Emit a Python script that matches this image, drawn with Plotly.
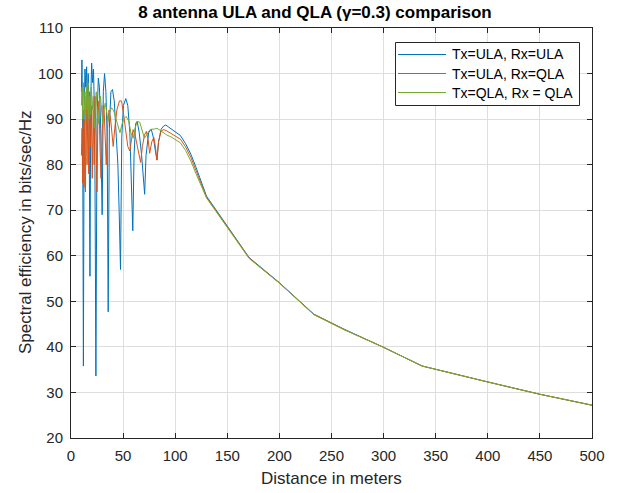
import plotly.graph_objects as go

# ---- data ----
ula_ula_x = [10.0, 10.5, 11.2, 11.9, 12.6, 13.4, 14.2, 15.0, 15.8, 16.5, 17.3, 18.2, 19.0, 19.8,
             20.8, 21.6, 22.8, 23.9, 25.0, 26.2, 27.3, 28.5, 29.9, 31.0, 32.2, 33.5, 34.7, 35.7,
             36.8, 38.3, 39.8, 41.5, 43.5, 45.0, 46.2, 47.5, 48.7, 50.3, 52.6, 54.5, 56.5, 58.2,
             59.3, 60.5, 62.0, 63.5, 65.5, 67.8, 69.5, 70.7, 72.0, 74.5, 77.0, 79.0, 81.0, 82.5,
             84.0, 86.5, 89.0, 91.0, 94.0, 97.0, 100, 105, 110, 115, 120, 125,
             130, 171, 200, 233, 262, 300, 337, 400, 450, 500]
ula_ula_y = [96, 103, 88, 35.8, 90, 101, 97, 101.5, 92, 100, 92, 55.5, 95, 102.3,
             98, 101, 88, 33.6, 90, 99, 97, 88, 69, 96, 100, 96, 86, 47.7,
             88, 96, 96.5, 94, 86, 80, 70, 57, 86, 93, 94.5, 93, 87, 76,
             65.5, 82, 89, 89.5, 87, 82, 77, 73.5, 82, 87, 87.8, 86, 83, 81,
             85, 87.8, 88.5, 88.7, 88.2, 87.7, 87.3, 86.4, 84.6, 82.3, 79.4, 76.3,
             73.1, 59.6, 54.1, 47.2, 43.9, 39.9, 35.8, 32.3, 29.6, 27.2]

ula_qla_x = [10.0, 10.6, 11.2, 11.8, 12.5, 13.2, 13.9, 14.6, 15.4, 16.2, 17.0, 17.8, 18.7, 19.5,
             20.4, 21.3, 22.2, 23.1, 24.0, 24.9, 25.8, 26.8, 27.8, 28.8, 29.8, 30.8, 31.8, 32.8,
             33.8, 35.0, 36.5, 38.0, 39.5, 40.5, 42.0, 44.0, 46.5, 48.5, 50.5, 52.5, 54.5, 56.4,
             58.0, 59.6, 61.5, 63.5, 65.5, 66.8, 68.5, 70.5, 72.3, 74.0, 75.5, 77.5, 79.5, 81.0,
             82.5, 84.0, 86.5, 89.0, 92.0, 96.0, 100, 105, 110, 115, 120, 125,
             130, 171, 200, 233, 262, 300, 337, 400, 450, 500]
ula_qla_y = [82, 88, 76, 92, 75, 90, 74, 95, 80, 94, 78, 96, 84, 93,
             77, 92, 80, 95, 86, 74, 90, 94, 84, 77, 86, 93, 92, 86,
             80, 88, 92, 90, 86, 84, 88, 92, 94, 94, 91, 87, 84, 83,
             86, 87.7, 86.5, 84, 81.5, 80.5, 84, 86.5, 87.3, 85.5, 82.5, 85, 86, 84,
             81, 85, 87.4, 87.7, 87.4, 86.9, 86.4, 85.6, 83.9, 81.6, 78.7, 75.7,
             72.9, 59.5, 54.0, 47.1, 43.8, 39.9, 35.8, 32.3, 29.6, 27.2]

qla_qla_x = [10.0, 10.6, 11.3, 12.0, 12.7, 13.4, 14.1, 14.8, 15.6, 16.4, 17.2, 18.0, 18.8, 19.6,
             20.5, 21.4, 22.3, 23.2, 24.2, 25.2, 26.2, 27.2, 28.3, 29.4, 30.5, 31.6, 32.8, 34.0,
             35.5, 37.0, 39.0, 41.0, 43.0, 45.0, 47.0, 48.5, 50.5, 53.0, 55.5, 57.5, 59.6, 61.5,
             63.5, 66.0, 68.5, 70.5, 72.5, 75.0, 77.5, 80.0, 82.5, 85.0, 88.0, 92.0, 96.0, 100,
             105, 110, 115, 120, 125,
             130, 171, 200, 233, 262, 300, 337, 400, 450, 500]
qla_qla_y = [93, 97, 90, 98, 91, 96, 89, 97, 92, 98, 90, 95, 91, 97,
             92, 95, 88, 94, 96, 91, 89, 93, 95, 92, 89, 92, 93.5, 92,
             89.5, 91.5, 92.5, 91.8, 90, 88.5, 87, 88.5, 90, 90.6, 89.5, 87, 85.8, 88,
             89.5, 89.3, 87.5, 85.8, 86.5, 87.5, 87.8, 87.8, 88, 87.6, 87, 86.5, 86.1, 85.6,
             84.8, 83.1, 80.8, 78.0, 75.2,
             72.7, 59.4, 54.0, 47.1, 43.8, 39.9, 35.8, 32.3, 29.6, 27.2]

series_names = ["Tx=ULA, Rx=ULA", "Tx=ULA, Rx=QLA", "Tx=QLA, Rx = QLA"]
series_colors = ["#0072BD", "#D95319", "#77AC30"]

x_ticks = [0, 50, 100, 150, 200, 250, 300, 350, 400, 450, 500]
y_ticks = [20, 30, 40, 50, 60, 70, 80, 90, 100, 110]

FONT = "Liberation Sans, Arial, Helvetica, sans-serif"
INK = "#262626"

W, H = 626, 493
ML, MR, MT, MB = 71, 34, 28, 55
PW, PH = W - ML - MR, H - MT - MB


def px2paper_x(px):
    return (px - ML) / PW


def px2paper_y(py):
    return (H - MB - py) / PH


fig = go.Figure()
for xs, ys, name, col in zip([ula_ula_x, ula_qla_x, qla_qla_x],
                             [ula_ula_y, ula_qla_y, qla_qla_y],
                             series_names, series_colors):
    fig.add_trace(go.Scatter(x=xs, y=ys, mode="lines", name=name, showlegend=False,
                             line=dict(color=col, width=1)))

# ---- legend box drawn in MATLAB style (frame, line samples, labels) ----
LEG_X0, LEG_X1, LEG_Y0, LEG_Y1 = 395.5, 579.5, 42.5, 105.5
ROW_Y = [54.5, 73.5, 92.5]
shapes = [dict(type="rect", xref="paper", yref="paper",
               x0=px2paper_x(LEG_X0), x1=px2paper_x(LEG_X1),
               y0=px2paper_y(LEG_Y1), y1=px2paper_y(LEG_Y0),
               line=dict(color=INK, width=1), fillcolor="white", layer="above")]
annotations = []
for name, col, ry in zip(series_names, series_colors, ROW_Y):
    shapes.append(dict(type="line", xref="paper", yref="paper",
                       x0=px2paper_x(398), x1=px2paper_x(446),
                       y0=px2paper_y(ry), y1=px2paper_y(ry),
                       line=dict(color=col, width=1), layer="above"))
    annotations.append(dict(text=name, xref="paper", yref="paper",
                            x=px2paper_x(450), y=px2paper_y(ry),
                            xanchor="left", yanchor="middle", showarrow=False,
                            font=dict(family=FONT, size=14, color="black")))

# axis titles placed as in the reference
annotations.append(dict(text="Distance in meters", xref="paper", yref="paper",
                        x=0.5, y=px2paper_y(478), xanchor="center", yanchor="middle",
                        showarrow=False, font=dict(family=FONT, size=17, color=INK)))
annotations.append(dict(text="Spectral efficiency in bits/sec/Hz", xref="paper", yref="paper",
                        x=px2paper_x(25), y=0.5, xanchor="center", yanchor="middle",
                        textangle=-90, showarrow=False,
                        font=dict(family=FONT, size=17, color=INK)))

axis_common = dict(
    showline=True, linecolor=INK, linewidth=1, mirror="ticks",
    ticks="inside", ticklen=5, tickcolor=INK, tickwidth=1,
    showgrid=True, gridcolor="#dedede", gridwidth=1, zeroline=False,
    tickfont=dict(family=FONT, size=15, color=INK),
)

fig.update_layout(
    width=W, height=H,
    paper_bgcolor="white", plot_bgcolor="white",
    margin=dict(l=ML, r=MR, t=MT, b=MB),
    title=dict(text="<b>8 antenna ULA and QLA (γ=0.3) comparison</b>",
               xref="paper", x=px2paper_x(315), xanchor="center", y=0.975, yanchor="middle",
               font=dict(family=FONT, size=17, color="black")),
    xaxis=dict(range=[0, 500], tickvals=x_ticks, ticklabelstandoff=4, **axis_common),
    yaxis=dict(range=[20, 110], tickvals=y_ticks, ticklabelstandoff=4, **axis_common),
    shapes=shapes,
    annotations=annotations,
    showlegend=False,
)

fig.write_html("out.html", config={"displayModeBar": False},
               post_script="document.body.style.margin='0';")
